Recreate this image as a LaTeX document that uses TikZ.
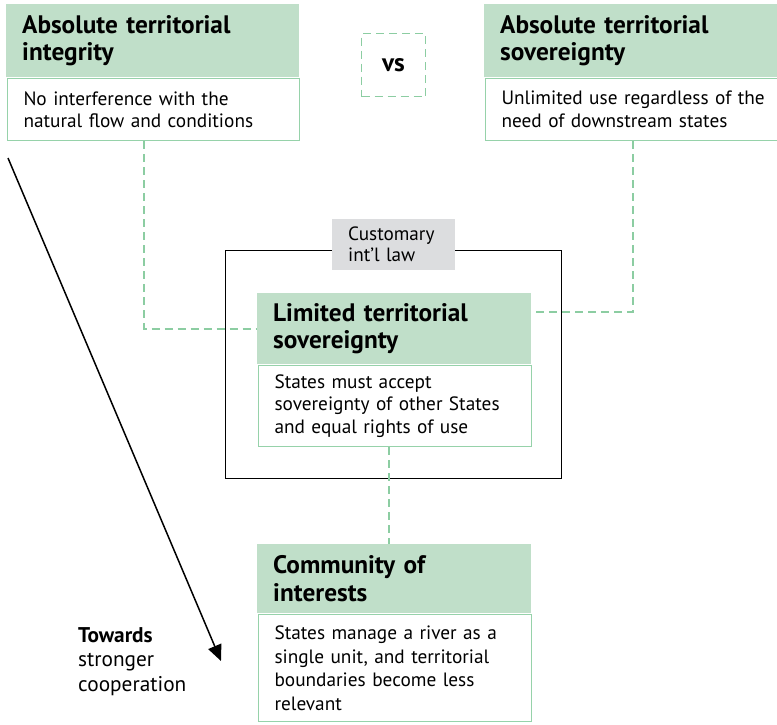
\documentclass[tikz,border=0pt]{standalone}
\usepackage{fontspec}
\setmainfont{PT Sans}
\usetikzlibrary{arrows.meta,calc}
\definecolor{hdrgreen}{RGB}{192,223,201}
\definecolor{linegreen}{RGB}{150,210,170}
\definecolor{dashgreen}{RGB}{140,205,162}
\definecolor{labelgray}{RGB}{220,221,223}
\newcommand\myhead{\fontsize{25.3}{27.5}\selectfont\bfseries}
\newcommand\mybody{\fontsize{19.3}{22.5}\selectfont}
\tikzset{
  hdr/.style={fill=hdrgreen, draw=none, anchor=north west, align=left,
    inner xsep=16pt, inner ysep=0pt, font=\myhead},
  bodybox/.style={fill=white, draw=linegreen, line width=1.5pt, anchor=north west,
    align=left, inner xsep=16pt, inner ysep=0pt, font=\mybody},
  link/.style={draw=dashgreen, line width=1.8pt, dash pattern=on 8pt off 5pt},
}
\begin{document}
\begin{tikzpicture}[x=1pt,y=-1pt]
\useasboundingbox (0,0) rectangle (777,724);
% top-left
\node[hdr, minimum width=293, minimum height=73, text width=261] (h1) at (6,4)
  {Absolute territorial\\integrity};
\node[bodybox, minimum width=292, minimum height=62, text width=260] (b1) at (6.75,77.75)
  {No interference with the\\natural flow and conditions};
% top-right
\node[hdr, minimum width=293, minimum height=73, text width=261] (h2) at (484,4)
  {Absolute territorial\\sovereignty};
\node[bodybox, minimum width=292, minimum height=62, text width=260] (b2) at (484.75,77.75)
  {\mbox{Unlimited use regardless of the}\\need of downstream states};
% vs
\node[link, line width=1.6pt, minimum width=64, minimum height=63, font=\myhead, inner sep=0pt] (vs) at (393.5,65) {vs};
% customary law frame
\node[draw=black, line width=1.3pt, minimum width=336, minimum height=228, anchor=north west, inner sep=0pt] (law) at (225,250) {};
\node[fill=labelgray, anchor=north west, minimum width=123, minimum height=51, text width=91,
  inner xsep=16pt, inner ysep=0pt, align=left, font=\fontsize{19.2}{21}\selectfont] (cil) at (332,219)
  {Customary\\int’l law};
% limited
\node[hdr, minimum width=274, minimum height=71, text width=242] (lh) at (257,293)
  {Limited territorial\\sovereignty};
\node[bodybox, minimum width=273, minimum height=81, text width=241] (lb) at (257.75,364.75)
  {States must accept\\sovereignty of other States\\and equal rights of use};
% community
\node[hdr, minimum width=274, minimum height=69, text width=242] (ch) at (257,544)
  {Community of\\interests};
\node[bodybox, minimum width=273, minimum height=107, text width=241,
  font=\fontsize{19.3}{23.5}\selectfont] (cb) at (257.75,613.75)
  {States manage a river as a\\single unit, and territorial\\boundaries become less\\relevant};
% dashed connectors
\coordinate (c1) at (144,0);
\coordinate (c2) at (633,312);
\coordinate (c3) at (389,0);
\draw[link] (b1.south -| c1) |- (lh.west);
\draw[link] (b2.south -| c2) -- (c2) -- ($(c2 -| lh.east)+(2,0)$);
\draw[link] (lb.south -| c3) -- (ch.north -| c3);
% arrow
\coordinate (a0) at (8,158);
\coordinate (a1) at (221,661);
\draw[line width=1.5pt, -{Triangle[length=16pt,width=14pt]}] (a0) -- (a1);
\node[anchor=north west, align=left, inner sep=0pt, font=\fontsize{21.3}{24.5}\selectfont] (tw) at (78,627)
  {\textbf{Towards}\\stronger\\cooperation};
\end{tikzpicture}
\end{document}
